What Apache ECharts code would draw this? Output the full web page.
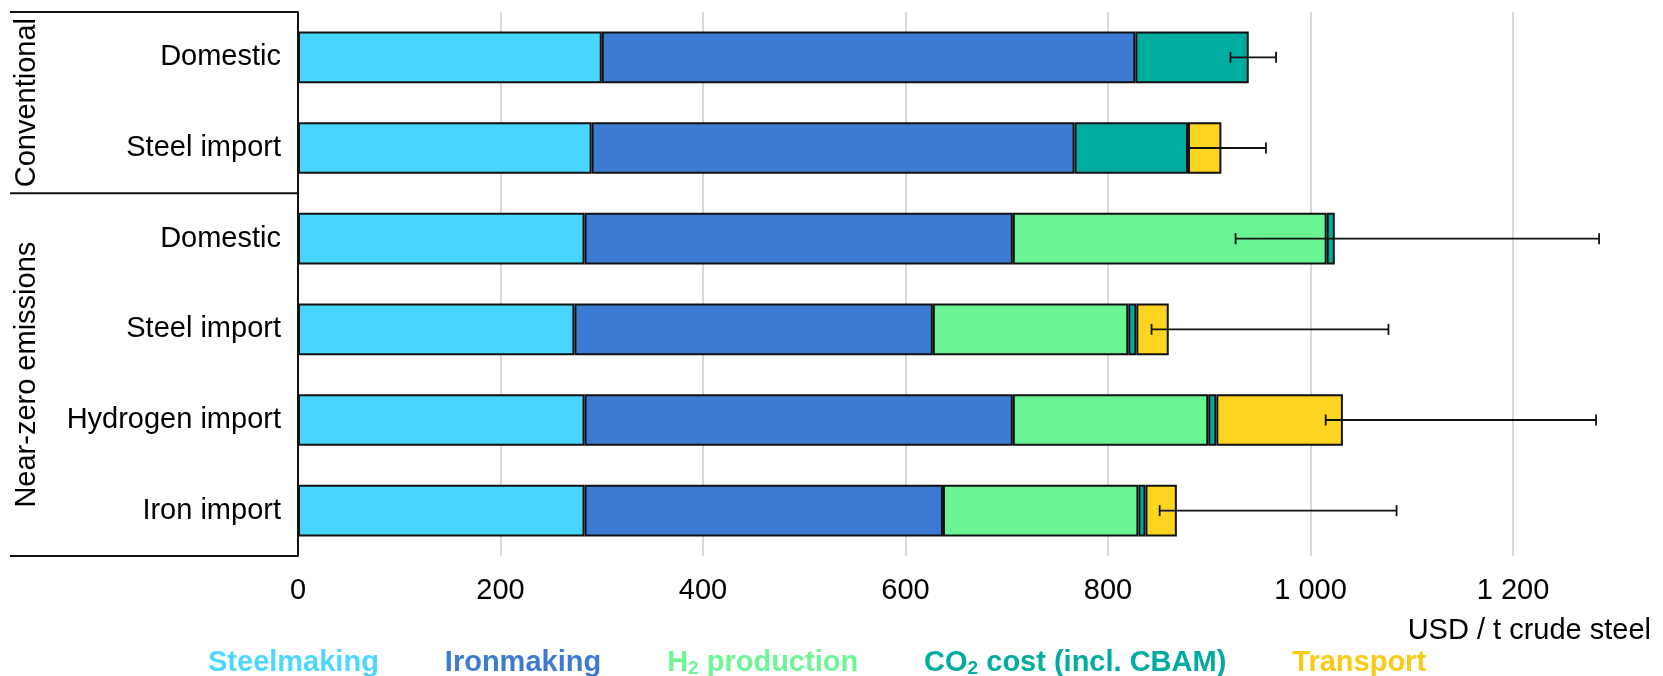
<!DOCTYPE html>
<html>
<head>
<meta charset="utf-8">
<script src="https://cdn.jsdelivr.net/npm/echarts@6/dist/echarts.min.js"></script>
<style>
  html, body { margin: 0; padding: 0; background: #fff; }
  #chart { width: 1663px; height: 676px; }
</style>
</head>
<body>
<div id="chart"></div>
<script>
// Rows, top to bottom
const rowLabels = ['Domestic', 'Steel import', 'Domestic', 'Steel import', 'Hydrogen import', 'Iron import'];

// Scenario groups (row index ranges)
const groupNames = ['Conventional', 'Near-zero emissions'];
const groupFirstRow = [0, 2];
const groupLastRow = [1, 5];

// Cost components, USD / t crude steel
const steelmaking = [300, 290, 283, 273, 283, 283];
const ironmaking  = [527, 477, 423, 354, 423, 354];
const h2Production = [null, null, 310, 193, 193, 193];
const co2Cost     = [112, 112, 8, 8, 8, 7];
const transport   = [null, 33, null, 32, 125, 31];

// Uncertainty range of the total
const rangeLow  = [921, 878, 926, 843, 1015, 851];
const rangeHigh = [966, 956, 1285, 1077, 1282, 1085];

const seriesNames = ['Steelmaking', 'Ironmaking', 'H2 production', 'CO2 cost (incl. CBAM)', 'Transport'];
const seriesValues = [steelmaking, ironmaking, h2Production, co2Cost, transport];
const barColors = ['#48d5ff', '#3c7bd3', '#6af493', '#00ab9f', '#fdd521'];

const FONT = "'Liberation Sans', Arial, sans-serif";
const FS = 29;

const chart = echarts.init(document.getElementById('chart'), null, { renderer: 'canvas' });

const barSeries = seriesNames.map((name, k) => ({
  name: name,
  type: 'bar',
  stack: 'total',
  barCategoryGap: '43%',
  data: seriesValues[k],
  itemStyle: { color: barColors[k], borderColor: '#111', borderWidth: 2 },
  emphasis: { disabled: true },
  z: 2
}));

const errorData = rowLabels.map((_, i) => [i, rangeLow[i], rangeHigh[i]]);

const errorSeries = {
  type: 'custom',
  name: 'range',
  data: errorData,
  encode: { x: [1, 2], y: 0 },
  z: 5,
  silent: true,
  renderItem: function (params, api) {
    const idx = api.value(0);
    const p0 = api.coord([api.value(1), idx]);
    const p1 = api.coord([api.value(2), idx]);
    const cap = 5.5;
    const st = { stroke: '#111', lineWidth: 1.8 };
    return {
      type: 'group',
      children: [
        { type: 'line', shape: { x1: p0[0], y1: p0[1], x2: p1[0], y2: p1[1] }, style: st },
        { type: 'line', shape: { x1: p0[0], y1: p0[1] - cap, x2: p0[0], y2: p0[1] + cap }, style: st },
        { type: 'line', shape: { x1: p1[0], y1: p1[1] - cap, x2: p1[0], y2: p1[1] + cap }, style: st }
      ]
    };
  }
};

function mainStyle(color) {
  return { color: color, fontWeight: 'bold', fontSize: FS, fontFamily: FONT, lineHeight: 32 };
}
function subStyle(color) {
  return { color: color, fontWeight: 'bold', fontSize: 19, fontFamily: FONT, lineHeight: 14, verticalAlign: 'bottom' };
}
const legendRich = {
  s: mainStyle('#4dd6ff'),
  i: mainStyle('#3d7bd2'),
  h: mainStyle('#6ef596'),
  hs: subStyle('#6ef596'),
  c: mainStyle('#00ab9f'),
  cs: subStyle('#00ab9f'),
  t: mainStyle('#f9cc14')
};

function legendText(name) {
  switch (name) {
    case 'Steelmaking': return '{s|Steelmaking}';
    case 'Ironmaking': return '{i|Ironmaking}';
    case 'H2 production': return '{h|H}{hs|2}{h| production}';
    case 'CO2 cost (incl. CBAM)': return '{c|CO}{cs|2}{c| cost (incl. CBAM)}';
    case 'Transport': return '{t|Transport}';
  }
  return name;
}

function thousands(v) {
  return String(v).replace(/\B(?=(\d{3})+(?!\d))/g, ' ');
}

const option = {
  animation: false,
  backgroundColor: '#fff',
  textStyle: { fontFamily: FONT },
  title: {
    text: 'USD / t crude steel',
    right: 7,
    top: 611,
    textStyle: { fontSize: FS, fontWeight: 'normal', color: '#000', fontFamily: FONT }
  },
  legend: {
    data: seriesNames,
    left: 197,
    top: 643,
    itemWidth: 0,
    itemHeight: 0,
    itemGap: 60,
    selectedMode: false,
    formatter: legendText,
    textStyle: { rich: legendRich, fontFamily: FONT, fontSize: FS }
  },
  grid: {
    left: 298,
    top: 12,
    width: 1417.5,
    height: 544,
    containLabel: false,
    outerBoundsMode: 'none'
  },
  xAxis: {
    type: 'value',
    min: 0,
    max: 1400,
    interval: 200,
    axisLine: { show: false },
    axisTick: { show: false },
    splitLine: { show: true, lineStyle: { color: '#d9d9d9', width: 2 } },
    axisLabel: {
      color: '#000', fontSize: FS, fontFamily: FONT, margin: 20,
      formatter: thousands
    }
  },
  yAxis: {
    type: 'category',
    inverse: true,
    data: rowLabels,
    axisLine: { show: true, lineStyle: { color: '#111', width: 2 } },
    axisTick: { show: false },
    splitLine: { show: false },
    axisLabel: { color: '#000', fontSize: FS, fontFamily: FONT, margin: 17 }
  },
  series: barSeries.concat([errorSeries])
};

chart.setOption(option);

// Group brackets and rotated group names on the left side
const yPix = i => chart.convertToPixel({ yAxisIndex: 0 }, i);
const band = Math.abs(yPix(1) - yPix(0));
const axisX = chart.convertToPixel({ xAxisIndex: 0 }, 0);
const bracketLeft = 10;
const graphics = [];
const edges = new Set();
groupNames.forEach((g, k) => {
  const top = yPix(groupFirstRow[k]) - band / 2;
  const bottom = yPix(groupLastRow[k]) + band / 2;
  edges.add(Math.round(top * 10) / 10);
  edges.add(Math.round(bottom * 10) / 10);
  graphics.push({
    type: 'text',
    x: 27,
    y: (top + bottom) / 2,
    rotation: Math.PI / 2,
    style: {
      text: g,
      fontSize: FS,
      fontFamily: FONT,
      fill: '#000',
      align: 'center',
      verticalAlign: 'middle'
    },
    z: 10
  });
});
edges.forEach(y => {
  graphics.push({
    type: 'line',
    shape: { x1: bracketLeft, y1: y, x2: axisX, y2: y },
    style: { stroke: '#111', lineWidth: 2 },
    z: 10
  });
});
chart.setOption({ graphic: graphics });
</script>
</body>
</html>
